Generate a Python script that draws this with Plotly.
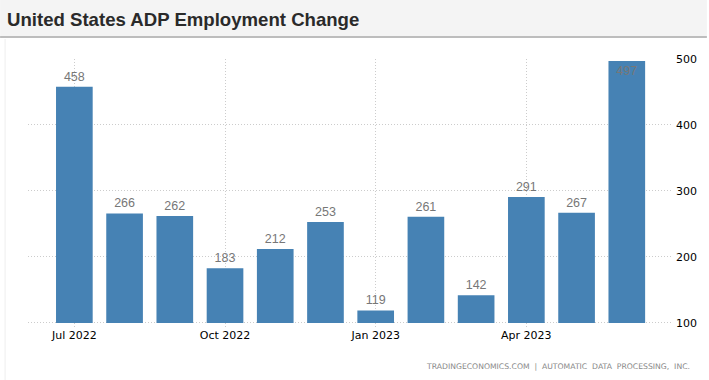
import plotly.graph_objects as go

months = ["Jul 2022", "Aug 2022", "Sep 2022", "Oct 2022", "Nov 2022", "Dec 2022",
          "Jan 2023", "Feb 2023", "Mar 2023", "Apr 2023", "May 2023", "Jun 2023"]
values = [458, 266, 262, 183, 212, 253, 119, 261, 142, 291, 267, 497]
tick_labels = ["Jul 2022", "Oct 2022", "Jan 2023", "Apr 2023"]
y_ticks = [100, 200, 300, 400, 500]

idx = list(range(len(months)))
tick_pos = [months.index(t) for t in tick_labels]

W, H = 709, 380
ml, mr, mt, mb = 28, 35, 59, 53
pw, ph = W - ml - mr, H - mt - mb

def px(x):
    return (x - ml) / pw

def py(y):
    return (H - mb - y) / ph

fig = go.Figure()
fig.add_trace(go.Bar(
    x=idx, y=[v - 100 for v in values], base=100,
    marker=dict(color="#4682b4", line=dict(width=0)),
    text=[str(v) for v in values],
    textposition=["outside" if v < 480 else "inside" for v in values],
    insidetextanchor="end",
    textfont=dict(family="Liberation Sans, Arial", size=12.5, color="#777777"),
    cliponaxis=False,
    hoverinfo="skip",
))

fig.update_layout(
    width=W, height=H,
    margin=dict(l=ml, r=mr, t=mt, b=mb),
    paper_bgcolor="white", plot_bgcolor="white",
    showlegend=False,
    bargap=0.27,
    xaxis=dict(
        range=[-0.923, 11.90],
        tickmode="array", tickvals=tick_pos, ticktext=tick_labels,
        showgrid=True, gridcolor="#cccccc", griddash="1px,2px", gridwidth=1,
        zeroline=False, showline=False, ticks="",
        tickfont=dict(family="DejaVu Sans", size=11, color="#000000"),
    ),
    yaxis=dict(
        range=[93.9, 500], side="right",
        tickmode="array", tickvals=y_ticks,
        showgrid=True, gridcolor="#cccccc", griddash="1px,2px", gridwidth=1,
        zeroline=False, showline=False, ticks="",
        tickfont=dict(family="DejaVu Sans", size=11, color="#000000"),
        ticklabelstandoff=3,
    ),
)

shapes = [
    dict(type="rect", xref="paper", yref="paper",
         x0=px(0), x1=px(W), y0=py(36), y1=py(0),
         fillcolor="#f4f4f4", line=dict(width=0), layer="below"),
    dict(type="line", xref="paper", yref="paper",
         x0=px(0), x1=px(W), y0=py(37), y1=py(37),
         line=dict(color="#bdbdbd", width=2)),
    dict(type="line", xref="paper", yref="paper",
         x0=px(5), x1=px(5), y0=py(39), y1=py(H),
         line=dict(color="#eeeeee", width=1)),
]
fig.update_layout(shapes=shapes)

fig.add_annotation(
    text="<b>United States ADP Employment Change</b>",
    xref="paper", yref="paper", x=px(5), y=py(19),
    xanchor="left", yanchor="middle", showarrow=False,
    font=dict(family="Liberation Sans, Arial", size=18.6, color="#2a2a2a"),
)
fig.add_annotation(
    text="TRADINGECONOMICS.COM  |  AUTOMATIC  DATA  PROCESSING,  INC.",
    xref="paper", yref="paper", x=px(694), y=py(366),
    xanchor="right", yanchor="middle", showarrow=False,
    font=dict(family="DejaVu Sans", size=7.7, color="#888888"),
)

fig.write_html("out.html", config={"displayModeBar": False, "staticPlot": True})
with open("out.html", "r", encoding="utf-8") as f:
    html = f.read()
html = html.replace("<head>", "<head><style>html,body{margin:0;padding:0;overflow:hidden;}</style>", 1)
with open("out.html", "w", encoding="utf-8") as f:
    f.write(html)
